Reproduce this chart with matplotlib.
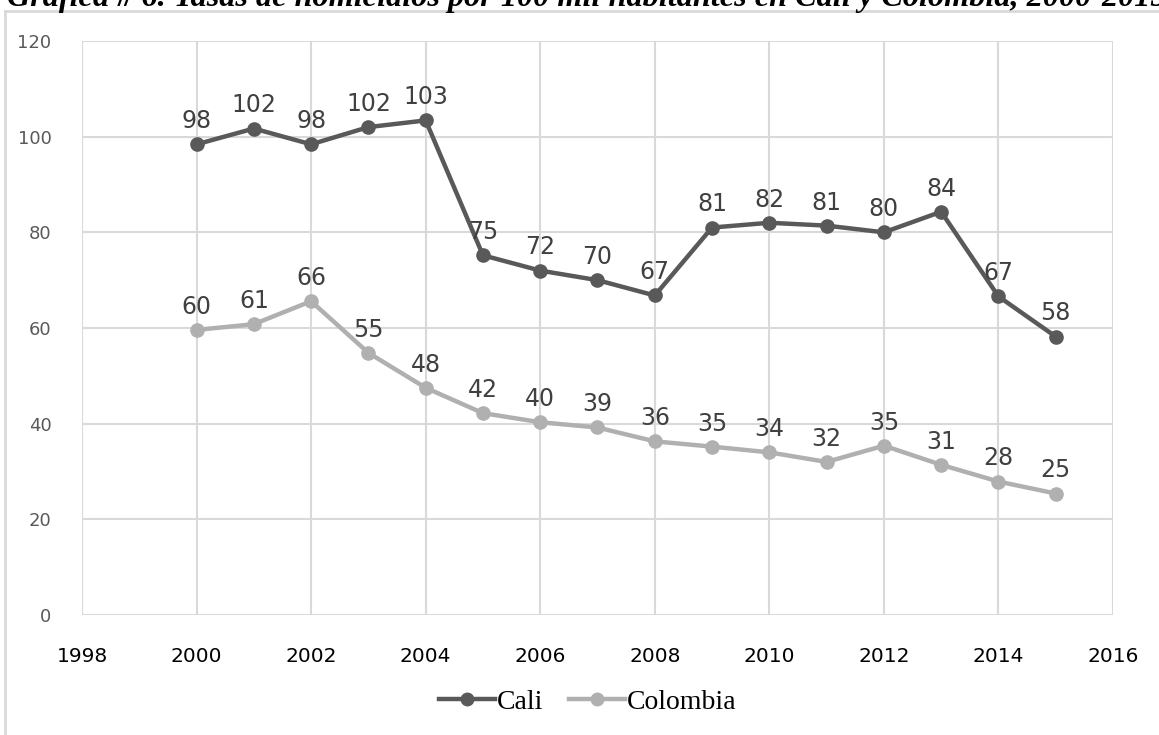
import matplotlib
matplotlib.use("Agg")
import matplotlib.pyplot as plt
from matplotlib.lines import Line2D

# datos
years = [2000, 2001, 2002, 2003, 2004, 2005, 2006, 2007,
         2008, 2009, 2010, 2011, 2012, 2013, 2014, 2015]
cali = [98.4, 101.7, 98.4, 102.0, 103.4, 75.2, 72.0, 70.0,
        66.8, 81.0, 82.0, 81.4, 80.0, 84.3, 66.6, 58.2]
colombia = [59.6, 60.8, 65.6, 54.8, 47.5, 42.2, 40.3, 39.2,
            36.3, 35.2, 34.0, 32.0, 35.4, 31.4, 27.9, 25.4]
xticks = [1998, 2000, 2002, 2004, 2006, 2008, 2010, 2012, 2014, 2016]
yticks = [0, 20, 40, 60, 80, 100, 120]
title = "Gráfica # 6. Tasas de homicidios por 100 mil habitantes en Cali y Colombia, 2000-2015"

c_cali = "#595959"
c_col = "#b0b0b0"
grid_c = "#d9d9d9"

fig = plt.figure(figsize=(11.59, 7.35), dpi=100)
ax = fig.add_axes([82/1159, 120/735, (1113-82)/1159, (615-41)/735])

ax.plot(years, cali, color=c_cali, lw=3.2, marker="o", ms=9.5, label="Cali", zorder=3)
ax.plot(years, colombia, color=c_col, lw=3.2, marker="o", ms=9.5, label="Colombia", zorder=3)

for x, y in zip(years, cali):
    ax.annotate(str(int(round(y))), (x, y), xytext=(0, 8), textcoords="offset points",
                ha="center", va="bottom", fontsize=17, color="#404040")
for x, y in zip(years, colombia):
    ax.annotate(str(int(round(y))), (x, y), xytext=(0, 8), textcoords="offset points",
                ha="center", va="bottom", fontsize=17, color="#404040")

ax.set_xlim(1998, 2016)
ax.set_ylim(0, 120)
ax.set_xticks(xticks)
ax.set_yticks(yticks)
ax.grid(True, color=grid_c, lw=1.5)
ax.set_axisbelow(True)
for s in ax.spines.values():
    s.set_visible(False)
ax.tick_params(length=0)
ax.tick_params(axis="x", labelsize=14.5, labelcolor="black", pad=23)
ax.tick_params(axis="y", labelsize=13, labelcolor="#595959", pad=22)

leg = fig.legend(handles=[Line2D([], [], color=c_cali, lw=3.2, marker="o", ms=9),
                          Line2D([], [], color=c_col, lw=3.2, marker="o", ms=9)],
                 labels=["Cali", "Colombia"], loc="center", bbox_to_anchor=(0.507, 0.045),
                 ncol=2, frameon=False, handlelength=2.0, handletextpad=0.07,
                 columnspacing=0.93, prop={"family": "Liberation Serif", "size": 20})

# marco exterior
fig.add_artist(Line2D([5/1159, 5/1159], [0, 1 - 11/735], color=grid_c, lw=2,
                      transform=fig.transFigure))
fig.add_artist(Line2D([5/1159, 1], [1 - 11/735, 1 - 11/735], color=grid_c, lw=2,
                      transform=fig.transFigure))

fig.text(0.506, 1.0 - 6/735, title, ha="center", va="baseline", fontsize=23.2,
         family="Liberation Serif", weight="bold", style="italic")

fig.savefig("out.png", dpi=100)
